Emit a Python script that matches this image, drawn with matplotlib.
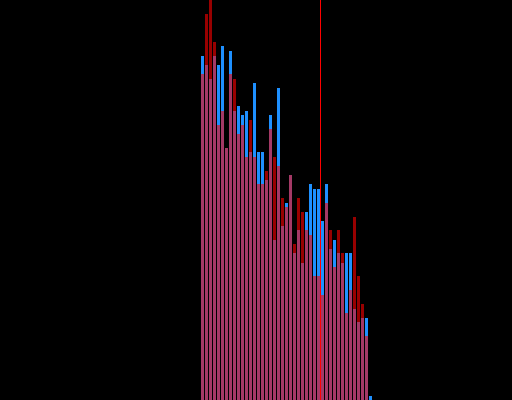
import numpy as np
import matplotlib
matplotlib.use("Agg")
from matplotlib import pyplot as plt

# bin index of each bar
bins = np.arange(43)

# heights
blue_vals = [344, 335, 321, 344, 335, 354, 252, 349, 289, 294, 285,
             289, 248, 317, 248, 248, 220, 285, 160, 312, 174,
             197, 225, 147, 170, 137, 188, 216, 211, 211, 179,
             216, 151, 160, 147, 137, 147, 147, 91, 78, 82, 82, 4]
red_vals = [326, 386, 410, 358, 275, 289, 252, 326, 321, 266, 275,
            243, 280, 243, 216, 216, 229, 271, 243, 234, 202,
            193, 225, 156, 202, 188, 170, 165, 124, 124, 105,
            197, 170, 133, 170, 147, 87, 110, 183, 124, 96, 64, 0]
mark_x = 29.875

fig = plt.figure(figsize=(5.12, 4), dpi=100, facecolor="black")
ax = fig.add_axes([0, 0, 1, 1])
ax.set_facecolor("black")

ax.bar(bins, blue_vals, width=0.75, align="edge", color="dodgerblue", linewidth=0)
ax.bar(bins, red_vals, width=0.75, align="edge", color="red", alpha=0.6, linewidth=0)
# marker line, one pixel wide (quarter bin)
ax.axvspan(mark_x - 0.125, mark_x + 0.125, color="red", linewidth=0, zorder=5)

ax.set_xlim(-50.25, 77.75)
ax.set_ylim(0, 400)
ax.axis("off")

plt.savefig("out.png", dpi=100, facecolor="black")
